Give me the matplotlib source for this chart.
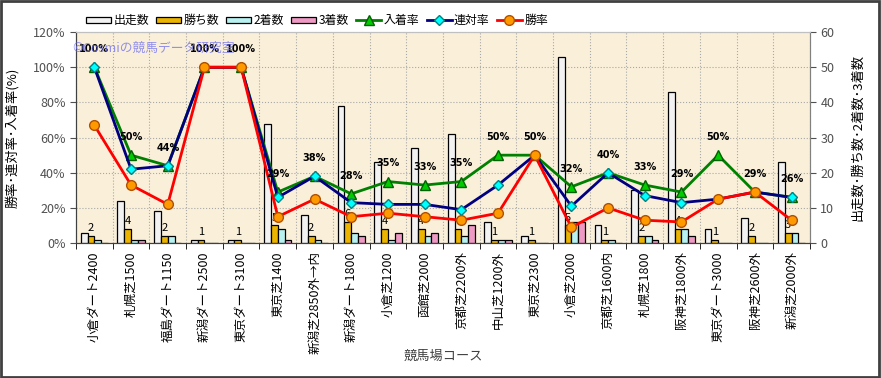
import matplotlib
matplotlib.use('Agg')
import matplotlib.pyplot as plt
import numpy as np
from matplotlib.patches import Rectangle

plt.rcParams['font.family'] = ['Noto Sans CJK JP', 'DejaVu Sans']

# data
courses = ['小倉ダート2400', '札幌芝1500', '福島ダート1150', '新潟ダート2500', '東京ダート3100',
           '東京芝1400', '新潟芝2850外→内', '新潟ダート1800', '小倉芝1200', '函館芝2000',
           '京都芝2200外', '中山芝1200外', '東京芝2300', '小倉芝2000', '京都芝1600内',
           '札幌芝1800', '阪神芝1800外', '東京ダート3000', '阪神芝2600外', '新潟芝2000外']
runs = [3, 12, 9, 1, 1, 34, 8, 39, 23, 27, 31, 6, 2, 53, 5, 15, 43, 4, 7, 23]
wins = [2, 4, 2, 1, 1, 5, 2, 6, 4, 4, 4, 1, 1, 5, 1, 2, 4, 1, 2, 3]
seconds = [1, 1, 2, 0, 0, 4, 1, 3, 1, 2, 2, 1, 0, 6, 1, 2, 4, 0, 0, 3]
thirds = [0, 1, 0, 0, 0, 1, 0, 2, 3, 3, 5, 1, 0, 6, 0, 1, 2, 0, 0, 0]
top3_rate = [100, 50, 44, 100, 100, 29, 38, 28, 35, 33, 35, 50, 50, 32, 40, 33, 29, 50, 29, 26]
top2_rate = [100, 42, 44, 100, 100, 26, 38, 23, 22, 22, 19, 33, 50, 21, 40, 27, 23, 25, 29, 26]
win_rate = [67, 33, 22, 100, 100, 15, 25, 15, 17, 15, 13, 17, 50, 9, 20, 13, 12, 25, 29, 13]

fig = plt.figure(figsize=(8.81, 3.78), dpi=100)
fig.patches.append(Rectangle((0.001, 0.002), 0.997, 0.995, transform=fig.transFigure,
                             fill=False, edgecolor='#404040', linewidth=2))

ax2 = fig.add_axes([0.0863, 0.357, 0.833, 0.558])
ax = ax2.twinx()
ax.set_zorder(ax2.get_zorder() + 1)
ax.patch.set_visible(False)
ax2.set_facecolor('#FAF0DA')

x = np.arange(len(courses))
bw = 0.185
bar_series = [(runs, '#F2F2F2', '出走数'), (wins, '#EAB400', '勝ち数'),
              (seconds, '#B8F2F0', '2着数'), (thirds, '#EE9AC4', '3着数')]
handles = []
for i, (vals, col, lab) in enumerate(bar_series):
    h = ax2.bar(x + (i - 1.5) * bw, vals, bw, color=col, edgecolor='black', linewidth=0.9,
                label=lab, zorder=3)
    handles.append(h)

for xi, w in zip(x, wins):
    ax2.annotate(str(w), (xi - 0.5 * bw, w), xytext=(0, 2), textcoords='offset points',
                 ha='center', va='bottom', fontsize=8, zorder=4)

l1, = ax.plot(x, top3_rate, color='#008000', lw=2, marker='^', ms=7, mfc='#00CC00',
              mec='#006000', label='入着率')
l2, = ax.plot(x, top2_rate, color='#000080', lw=2, marker='D', ms=5, mfc='#00FFFF',
              mec='#008080', label='連対率')
l3, = ax.plot(x, win_rate, color='#FF0000', lw=2, marker='o', ms=7, mfc='#FF9900',
              mec='#B05000', label='勝率')
handles += [l1, l2, l3]

for xi, r in zip(x, top3_rate):
    ax.annotate(f'{r}%', (xi, r), xytext=(0, 13), textcoords='offset points',
                ha='center', va='center', fontsize=7, fontweight='bold', family='DejaVu Sans')

ax.text(-0.005, 0.924, '©Cosmiの競馬データ研究室', transform=ax.transAxes, fontsize=9.2,
        color='#7070F0', alpha=0.75, va='center', ha='left')

ax2.set_xlim(-0.5, len(courses) - 0.5)
ax2.set_ylim(0, 60)
ax.set_ylim(0, 120)
ax.set_yticks(np.arange(0, 121, 20))
ax2.set_yticks(np.arange(0, 61, 10))
# left axis shows rates, right axis counts
ax.yaxis.tick_left()
ax.yaxis.set_label_position('left')
ax2.yaxis.tick_right()
ax2.yaxis.set_label_position('right')
ax.set_yticklabels([f'{v}%' for v in range(0, 121, 20)])
ax.tick_params(axis='y', colors='#505050', labelsize=9, labelcolor='#505050', length=4)
ax2.tick_params(axis='y', colors='#505050', labelsize=9, labelcolor='#505050', length=4)

ax2.set_xticks(x)
ax2.set_xticklabels(courses, rotation=90, va='top', ha='center', fontsize=9)
ax2.tick_params(axis='x', length=0, pad=6)
ax2.set_xticks(np.arange(-0.5, len(courses), 1), minor=True)
ax2.tick_params(axis='x', which='minor', length=4)
ax2.grid(True, which='minor', axis='x', color='#A8A8A8', ls=':', lw=0.8, zorder=0)
ax2.grid(True, which='major', axis='y', color='#A8A8A8', ls=':', lw=0.8, zorder=0)
ax2.set_axisbelow(True)

ax.set_ylabel('勝率･連対率･入着率(%)', fontsize=9.5, labelpad=10)
ax2.set_ylabel('出走数･勝ち数･2着数･3着数', fontsize=9.5, rotation=90, labelpad=12)
ax2.set_xlabel('競馬場コース', fontsize=9.5, color='#404040', labelpad=-3)

for a in (ax, ax2):
    a.spines['top'].set_color('#C0C0C0')
    a.spines['left'].set_color('#404040')
    a.spines['right'].set_color('#808080')
    a.spines['bottom'].set_color('#404040')

fig.legend(handles=handles, loc='upper left', bbox_to_anchor=(0.092, 0.975), ncol=7,
           frameon=False, fontsize=8.6, handlelength=2.1, handleheight=0.5,
           columnspacing=0.6, handletextpad=0.2, borderaxespad=0)

fig.savefig('out.png', dpi=100)
